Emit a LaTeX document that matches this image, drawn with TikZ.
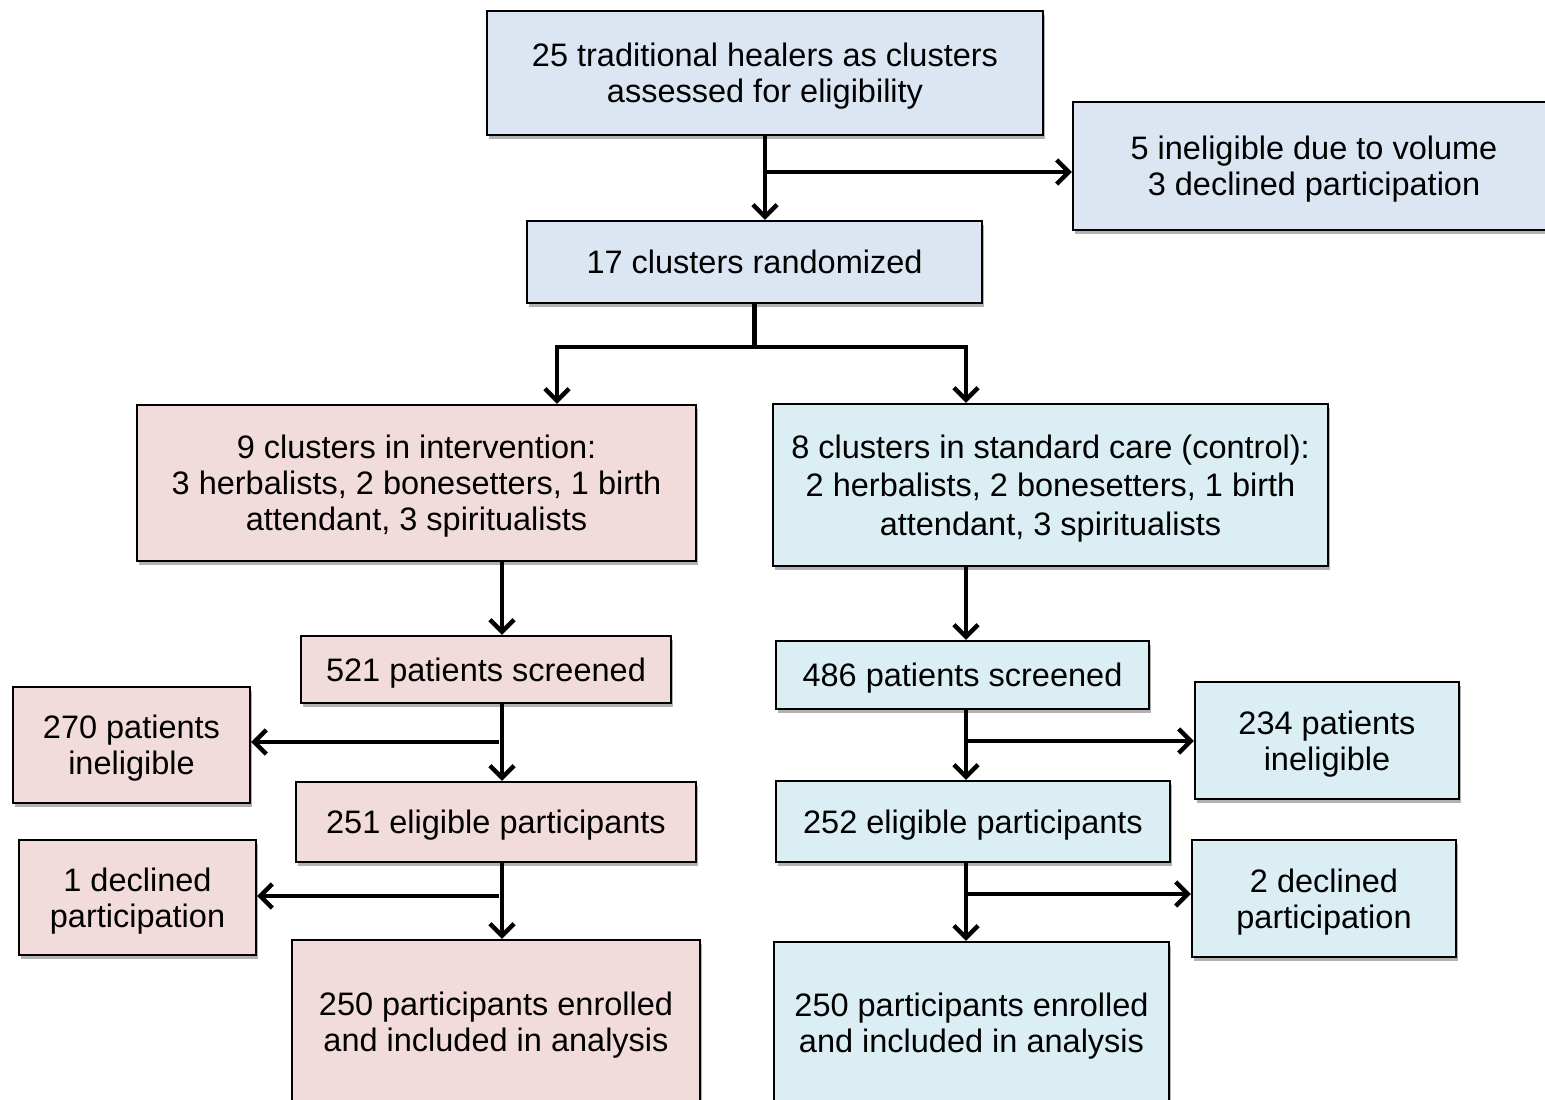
\documentclass[tikz,border=0pt]{standalone}
\usepackage{fontspec}
\setmainfont{Liberation Sans}
\usetikzlibrary{arrows.meta,shadows}
\definecolor{topblue}{HTML}{DCE6F2}
\definecolor{pinkfill}{HTML}{F2DCDB}
\definecolor{cyanfill}{HTML}{DBEEF4}
\begin{document}
\begin{tikzpicture}[x=1pt,y=-1pt,
  box/.style={draw=black, line width=2.2pt, inner sep=0pt, align=center,
    font=\fontsize{32.5}{36}\selectfont, text depth=0pt,
    drop shadow={shadow xshift=2pt, shadow yshift=-4pt, fill=black, opacity=0.3}},
  bluebox/.style={box, fill=topblue},
  pinkbox/.style={box, fill=pinkfill},
  cyanbox/.style={box, fill=cyanfill},
  conn/.style={line width=4.5pt, line cap=rect},
  arr/.style={line width=4.5pt, -{Straight Barb[length=12pt,width=24pt]}}]
\useasboundingbox (0,0) rectangle (1545,1100);

% nodes
\node[bluebox, minimum width=556, minimum height=124] (top) at (765,73)
  {25 traditional healers as clusters\\assessed for eligibility};
\node[bluebox, minimum width=482, minimum height=128] (excl) at (1314,166)
  {5 ineligible due to volume\\3 declined participation};
\node[bluebox, minimum width=455, minimum height=82] (rand) at (754.5,262)
  {17 clusters randomized};
\node[pinkbox, minimum width=559, minimum height=156] (intv) at (416.5,483)
  {9 clusters in intervention:\\3 herbalists, 2 bonesetters, 1 birth\\attendant, 3 spiritualists};
\node[cyanbox, minimum width=555, minimum height=162, font=\fontsize{32.5}{38.5}\selectfont] (ctrl) at (1050.5,485)
  {8 clusters in standard care (control):\\2 herbalists, 2 bonesetters, 1 birth\\attendant, 3 spiritualists};
\node[pinkbox, minimum width=370, minimum height=67] (scrL) at (486,669.5)
  {521 patients screened};
\node[cyanbox, minimum width=373, minimum height=68] (scrR) at (962.5,675)
  {486 patients screened};
\node[pinkbox, minimum width=237, minimum height=116] (inelL) at (131.5,745)
  {270 patients\\ineligible};
\node[pinkbox, minimum width=400, minimum height=80] (eligL) at (496,822)
  {251 eligible participants};
\node[pinkbox, minimum width=237, minimum height=115] (declL) at (137.5,897.5)
  {1 declined\\participation};
\node[pinkbox, minimum width=408, minimum height=164] (enrL) at (496,1022)
  {250 participants enrolled\\and included in analysis};
\node[cyanbox, minimum width=264, minimum height=117] (inelR) at (1327,740.5)
  {234 patients\\ineligible};
\node[cyanbox, minimum width=394, minimum height=81] (eligR) at (973,821.5)
  {252 eligible participants};
\node[cyanbox, minimum width=264, minimum height=117] (declR) at (1324,898.5)
  {2 declined\\participation};
\node[cyanbox, minimum width=395, minimum height=162] (enrR) at (971.5,1023)
  {250 participants enrolled\\and included in analysis};

% helper coordinates
\coordinate (bTop) at (765,172);
\coordinate (spL) at (557,347);
\coordinate (spR) at (966,347);
\coordinate (cL) at (502,0);
\coordinate (cR) at (966,0);
\coordinate (bL1) at (499,742);
\coordinate (bL2) at (499,896);
\coordinate (bR1) at (966,741);
\coordinate (bR2) at (966,894);

% connectors
\draw[arr] (top.south) -- (top.south |- rand.north);
\draw[arr] (bTop) -- (bTop -| excl.west);
\draw[conn] (rand.south) -- (rand.south |- spL);
\draw[conn] (spL) -- (spR);
\draw[arr] (spL) -- (spL |- intv.north);
\draw[arr] (spR) -- (spR |- ctrl.north);

\draw[arr] (cL |- intv.south) -- (cL |- scrL.north);
\draw[arr] (cL |- scrL.south) -- (cL |- eligL.north);
\draw[arr] (bL1) -- (bL1 -| inelL.east);
\draw[arr] (cL |- eligL.south) -- (cL |- enrL.north);
\draw[arr] (bL2) -- (bL2 -| declL.east);

\draw[arr] (cR |- ctrl.south) -- (cR |- scrR.north);
\draw[arr] (cR |- scrR.south) -- (cR |- eligR.north);
\draw[arr] (bR1) -- (bR1 -| inelR.west);
\draw[arr] (cR |- eligR.south) -- (cR |- enrR.north);
\draw[arr] (bR2) -- (bR2 -| declR.west);
\end{tikzpicture}
\end{document}
